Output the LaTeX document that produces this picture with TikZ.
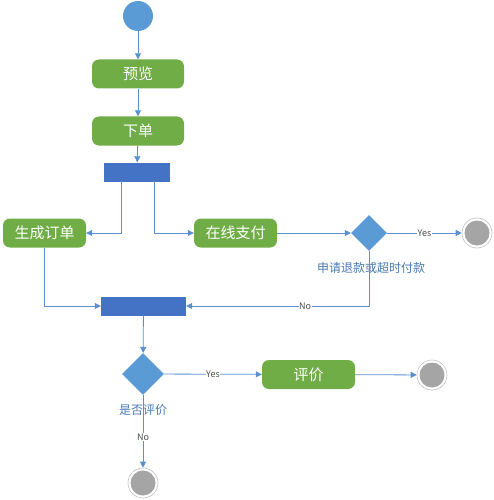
\documentclass[tikz,border=0pt]{standalone}
\usepackage{fontspec}
\setmainfont{Noto Sans CJK SC}
\usetikzlibrary{shapes.geometric,arrows.meta}
\definecolor{gfill}{HTML}{70AD47}
\definecolor{bfill}{HTML}{5B9BD5}
\definecolor{barc}{HTML}{4472C4}
\definecolor{linec}{HTML}{5B8FD0}
\definecolor{grayc}{HTML}{A5A5A5}
\definecolor{labc}{HTML}{4A79B5}
\begin{document}
\begin{tikzpicture}[x=1pt,y=-1pt,
  act/.style={draw=none,fill=gfill,rounded corners=7pt,minimum width=92pt,minimum height=29pt,text=white,font=\fontsize{15}{15}\selectfont,inner sep=0pt},
  bar/.style={fill=barc,draw=none,minimum height=19pt,inner sep=0pt},
  dec/.style={diamond,fill=bfill,draw=none,inner sep=0pt},
  fin/.style={circle,draw=grayc!70,line width=0.6pt,fill=white,minimum size=30pt,inner sep=0pt,path picture={\fill[grayc] (path picture bounding box.center) circle (12.5pt);}},
  conn/.style={draw=linec,line width=0.8pt,-{Triangle[length=6pt,width=6pt]}},
  plain/.style={draw=linec,line width=0.8pt},
  elab/.style={fill=white,inner sep=0.5pt,text=black!70,font=\fontsize{9}{9}\selectfont},
  clab/.style={text=labc,font=\fontsize{12}{12}\selectfont,inner sep=0pt}
]
\useasboundingbox (0,0) rectangle (493,500);
\node[circle,fill=bfill,minimum size=30pt,inner sep=0pt] (start) at (138,16) {};
\node[act] (view) at (138,74) {预览};
\node[act] (order) at (138,131) {下单};
\node[bar,minimum width=66pt] (fork) at (137,172) {};
\node[act,minimum width=83pt] (gen) at (44.5,233) {生成订单};
\node[act,minimum width=83pt] (pay) at (235.5,233) {在线支付};
\node[dec,minimum width=36pt,minimum height=36pt] (d1) at (369,233) {};
\node[fin] (e1) at (477,233) {};
\node[clab] (l1) at (371,268) {申请退款或超时付款};
\node[bar,minimum width=85pt] (join) at (143.5,306) {};
\node[dec,minimum width=42pt,minimum height=42pt] (d2) at (143,374) {};
\node[clab] (l2) at (143,410) {是否评价};
\node[act,minimum width=93pt] (rate) at (308.5,374.5) {评价};
\node[fin] (e2) at (432,375) {};
\node[fin] (e3) at (143,483) {};
\coordinate (f1) at (121,181);
\coordinate (f2) at (154,181);
\draw[conn] (start) -- (view);
\draw[conn] (view) -- (order);
\draw[conn] (order) -- (fork);
\draw[conn] (f1) |- (gen);
\draw[conn] (f2) |- (pay);
\draw[conn] (pay) -- (d1);
\draw[conn] (d1) -- node[elab]{Yes} (e1);
\draw[conn] (d1.south) |- node[elab,pos=0.675]{No} (join.east);
\draw[conn] (gen.south) |- (join.west);
\draw[conn] (join) -- (d2);
\draw[conn] (d2) -- node[elab]{Yes} (rate);
\draw[conn] (rate) -- (e2);
\draw[conn] (d2.south) -- node[elab,pos=0.58]{No} (e3);
\end{tikzpicture}
\end{document}
